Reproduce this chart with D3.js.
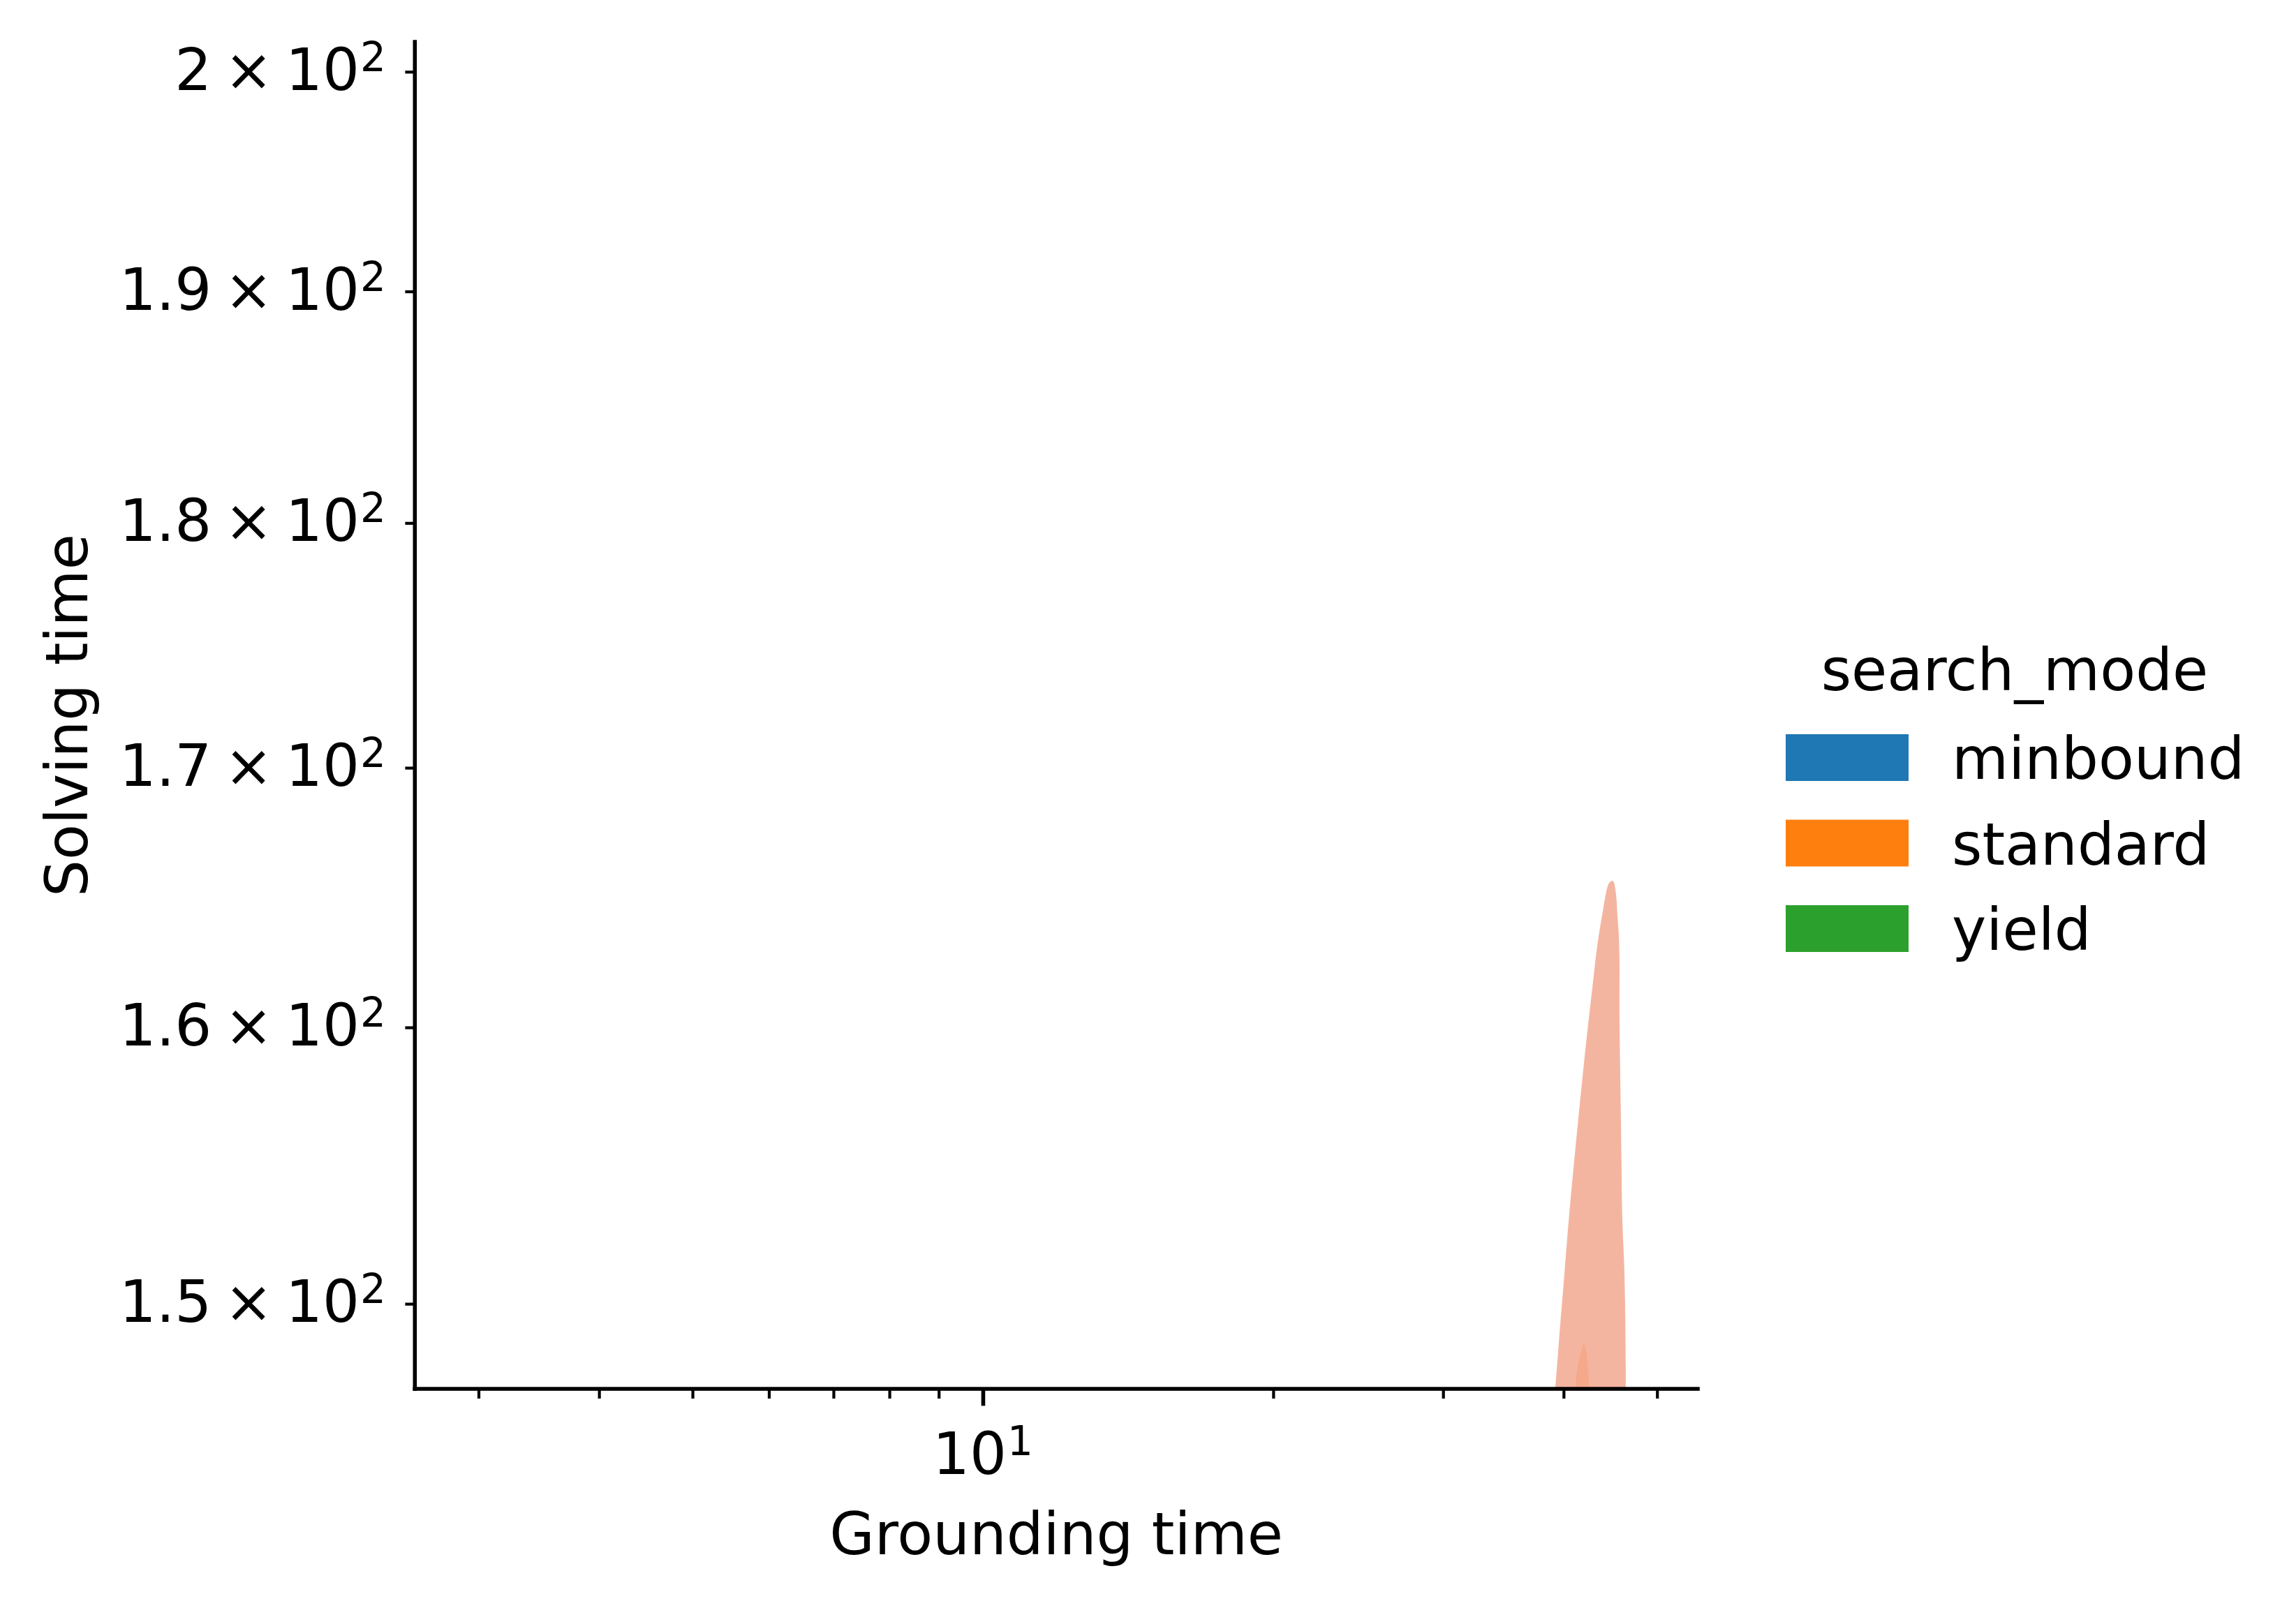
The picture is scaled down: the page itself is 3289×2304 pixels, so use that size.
<!DOCTYPE html>
<html><head><meta charset="utf-8">
<script src="https://cdn.jsdelivr.net/npm/d3@7"></script>
<style>
html,body{margin:0;padding:0;background:#ffffff;}
svg{display:block;}
text{font-family:"DejaVu Sans",sans-serif;fill:#000;}
</style>
</head><body><div id="chart"></div>
<script>
// ---- data ----
const categories = ["minbound", "standard", "yield"];
const categoryColors = ["#1f77b4", "#ff7f0e", "#2ca02c"];
const standardLevelColors = ["#f4b5a0", "#f5a98a"];

// standard: outer (lowest) density contour, [grounding time, solving time]
const standardOuterGrounding = [39.14,39.21,39.67,40.00,40.54,41.22,41.98,42.83,43.40,43.99,44.21,44.43,44.65,44.95,45.10,45.25,45.40,45.48,45.63,45.71,45.71,45.86,45.93,46.01,46.24,46.32,46.40,46.40];
const standardOuterSolving   = [146.81,147.05,149.22,150.69,153.16,155.83,158.62,161.44,163.21,164.54,165.00,165.35,165.51,165.57,165.51,165.27,164.81,164.28,163.55,162.60,160.44,156.80,155.02,153.11,151.23,150.10,147.79,146.81];
// standard: second density contour
const standardInnerGrounding = [41.12,41.15,41.22,41.49,41.77,41.98,42.19,42.33,42.47,42.55,42.57];
const standardInnerSolving   = [146.81,147.05,147.46,148.01,148.42,148.59,148.42,148.01,147.46,147.05,146.81];

const xDomain = [2.577, 55.1];
const yDomain = [147.05, 201.4];
const xMajorTicks = [10];
const xMajorLabels = [["10", "1"]];
const xMinorTicks = [3, 4, 5, 6, 7, 8, 9, 20, 30, 40, 50];
const yTicks = [150, 160, 170, 180, 190, 200];
const yTickMantissas = ["1.5", "1.6", "1.7", "1.8", "1.9", "2"];
const yTickExponent = "2";
const xLabel = "Grounding time";
const yLabel = "Solving time";
const legendTitle = "search_mode";

// ---- layout ----
const W = 3289, H = 2304;
const L = 594.3, R = 2432, T = 60, B = 1990;
const FS = 83.3, SUP = 58, LW = 5.6, MINW = 4.2;

const svg = d3.select("#chart").append("svg").attr("width", W).attr("height", H);
svg.append("rect").attr("width", W).attr("height", H).attr("fill", "#fff");

const x = d3.scaleLog().domain(xDomain).range([L, R]);
const y = d3.scaleLog().domain(yDomain).range([B, T]);

svg.append("clipPath").attr("id", "plotclip").append("rect")
  .attr("x", L).attr("y", T).attr("width", R - L).attr("height", B - T);

const line = d3.line().x(d => x(d[0])).y(d => y(d[1])).curve(d3.curveCatmullRom.alpha(0.5));
const outer = standardOuterGrounding.map((g, i) => [g, standardOuterSolving[i]]);
const inner = standardInnerGrounding.map((g, i) => [g, standardInnerSolving[i]]);
const gPlot = svg.append("g").attr("clip-path", "url(#plotclip)");
gPlot.append("path").attr("d", line(outer) + "Z").attr("fill", standardLevelColors[0]);
gPlot.append("path").attr("d", line(inner) + "Z").attr("fill", standardLevelColors[1]);

// ---- axes ----
function styleAxis(g, w) {
  g.select(".domain").remove();
  g.selectAll(".tick line").attr("stroke", "#000").attr("stroke-width", w);
  g.selectAll(".tick text").remove();
}
const xMinorAxis = svg.append("g").attr("transform", `translate(0,${B})`)
  .call(d3.axisBottom(x).tickValues(xMinorTicks).tickSize(13.9).tickSizeOuter(0).tickFormat(() => ""));
styleAxis(xMinorAxis, MINW);
const xMajorAxis = svg.append("g").attr("transform", `translate(0,${B})`)
  .call(d3.axisBottom(x).tickValues(xMajorTicks).tickSize(24.3).tickSizeOuter(0).tickFormat(() => ""));
styleAxis(xMajorAxis, LW);
const yAxis = svg.append("g").attr("transform", `translate(${L},0)`)
  .call(d3.axisLeft(y).tickValues(yTicks).tickSize(13.9).tickSizeOuter(0).tickFormat(() => ""));
styleAxis(yAxis, MINW);

// spines
svg.append("line").attr("x1", L).attr("x2", L).attr("y1", T).attr("y2", B)
  .attr("stroke", "#000").attr("stroke-width", LW).attr("stroke-linecap", "square");
svg.append("line").attr("x1", L).attr("x2", R).attr("y1", B).attr("y2", B)
  .attr("stroke", "#000").attr("stroke-width", LW).attr("stroke-linecap", "square");

// y tick labels  m × 10^2
yTicks.forEach((v, i) => {
  const t = svg.append("text").attr("x", 553).attr("y", y(v) + 26)
    .attr("text-anchor", "end").attr("font-size", FS);
  t.append("tspan").text(yTickMantissas[i]);
  t.append("tspan").attr("dx", 18).text("\u00D7");
  t.append("tspan").attr("dx", 18).text("10");
  t.append("tspan").attr("dx", 1).attr("dy", -27).attr("font-size", SUP).text(yTickExponent);
});
// x tick labels 10^1
xMajorTicks.forEach((v, i) => {
  const t = svg.append("text").attr("x", x(v)).attr("y", 2112)
    .attr("text-anchor", "middle").attr("font-size", FS);
  t.append("tspan").text(xMajorLabels[i][0]);
  t.append("tspan").attr("dx", 1).attr("dy", -27).attr("font-size", SUP).text(xMajorLabels[i][1]);
});

// axis labels
svg.append("text").attr("x", (L + R) / 2).attr("y", 2227).attr("text-anchor", "middle")
  .attr("font-size", FS).text(xLabel);
svg.append("text").attr("transform", `translate(125,${(T + B) / 2}) rotate(-90)`)
  .attr("text-anchor", "middle").attr("font-size", FS).text(yLabel);

// legend
svg.append("text").attr("x", 2886).attr("y", 989).attr("text-anchor", "middle")
  .attr("font-size", FS).text(legendTitle);
const leg = svg.append("g").selectAll("g").data(categories).join("g")
  .attr("transform", (d, i) => `translate(2558,${1052 + i * 122.5})`);
leg.append("rect").attr("width", 176).attr("height", 67)
  .attr("fill", (d, i) => categoryColors[i]);
leg.append("text").attr("x", 238).attr("y", 64).attr("font-size", FS).text(d => d);
</script>
</body></html>
